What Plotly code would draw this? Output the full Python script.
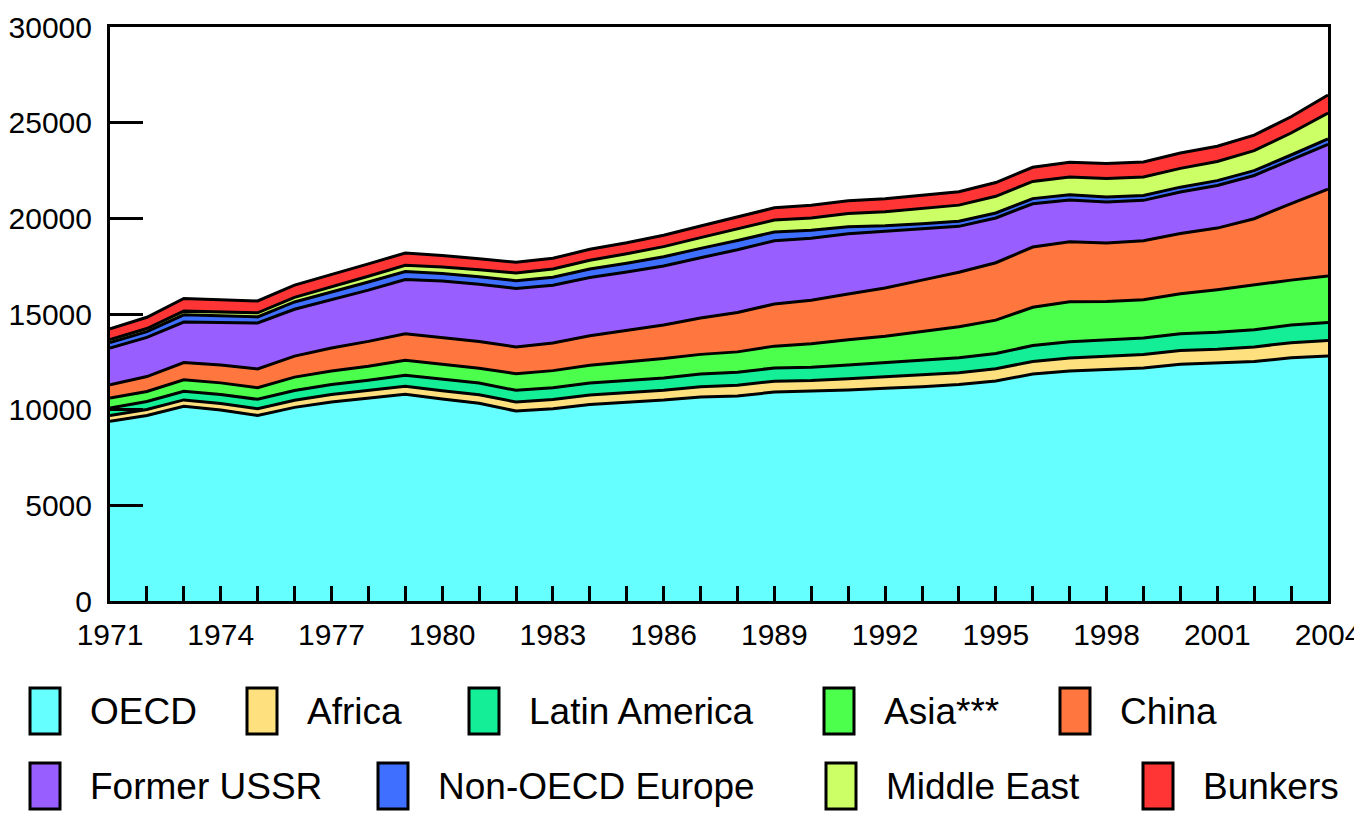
import plotly.graph_objects as go

years = list(range(1971, 2005))

oecd = [9390, 9700, 10180, 9980, 9700, 10120, 10400, 10590, 10800, 10560, 10330, 9930, 10050, 10270, 10380, 10500, 10660,
        10720, 10920, 10960, 11030, 11120, 11200, 11320, 11500, 11860, 12020, 12100, 12180, 12370, 12430, 12520, 12710, 12800]
africa = [300, 310, 330, 340, 350, 370, 390, 400, 420, 430, 450, 470, 480, 500, 510, 520, 540,
          560, 570, 560, 580, 590, 600, 610, 640, 660, 680, 690, 700, 720, 730, 760, 790, 810]
latin_america = [400, 420, 450, 470, 490, 510, 530, 550, 580, 600, 610, 610, 610, 620, 630, 640, 660,
                 680, 690, 700, 720, 740, 760, 780, 800, 830, 850, 860, 870, 880, 880, 900, 920, 950]
asia = [520, 520, 600, 610, 610, 700, 700, 730, 780, 790, 780, 870, 900, 930, 960, 1010, 1030,
        1060, 1140, 1220, 1330, 1390, 1530, 1620, 1740, 2000, 2090, 2000, 2000, 2090, 2230, 2350, 2350, 2430]
china = [690, 780, 900, 930, 980, 1100, 1200, 1300, 1390, 1390, 1390, 1400, 1440, 1540, 1650, 1760, 1900,
         2060, 2200, 2280, 2380, 2520, 2680, 2850, 3000, 3150, 3130, 3060, 3080, 3150, 3220, 3450, 4000, 4530]
former_ussr = [1920, 2050, 2120, 2230, 2400, 2450, 2530, 2680, 2830, 2950, 3000, 3050, 3020, 3050, 3060, 3080, 3150,
               3280, 3310, 3240, 3160, 2960, 2680, 2400, 2340, 2260, 2190, 2150, 2110, 2170, 2230, 2260, 2280, 2350]
non_oecd_europe = [290, 300, 380, 360, 320, 380, 390, 420, 420, 400, 390, 410, 420, 440, 460, 480, 490,
                   480, 460, 420, 360, 290, 270, 270, 260, 270, 270, 260, 250, 250, 250, 250, 260, 280]
middle_east = [150, 160, 190, 200, 210, 240, 270, 300, 330, 340, 360, 400, 430, 460, 500, 530, 560,
               600, 620, 640, 690, 730, 800, 840, 870, 900, 930, 960, 970, 980, 1000, 1050, 1150, 1350]
bunkers = [560, 590, 660, 640, 620, 640, 640, 650, 640, 600, 580, 560, 560, 570, 570, 600, 610,
           620, 640, 660, 670, 690, 700, 700, 720, 740, 770, 780, 780, 800, 800, 810, 850, 950]

series_names = ["OECD", "Africa", "Latin America", "Asia***", "China",
                "Former USSR", "Non-OECD Europe", "Middle East", "Bunkers"]
series_values = [oecd, africa, latin_america, asia, china,
                 former_ussr, non_oecd_europe, middle_east, bunkers]
series_colors = ["#66FFFF", "#FFE07F", "#14EE96", "#4CFF4C", "#FF773F",
                 "#995EFF", "#3F6FFF", "#CCFF66", "#FF3535"]

y_tick_vals = [0, 5000, 10000, 15000, 20000, 25000, 30000]
y_tick_text = ["0", "5000", "10000", "15000", "20000", "25000", "30000"]
x_label_years = [1971, 1974, 1977, 1980, 1983, 1986, 1989, 1992, 1995, 1998, 2001, 2004]

fig = go.Figure()
for name, vals, col in zip(series_names, series_values, series_colors):
    fig.add_trace(go.Scatter(
        x=years, y=vals, name=name, mode="lines", stackgroup="one",
        fillcolor=col, line=dict(color="black", width=3, shape="linear"),
        showlegend=False, hoverinfo="x+y+name"))

# the page body has an 8px margin, so figure coordinates = screen coordinates - 8
OFF = 8
W, H = 1362 - OFF, 813 - OFF
L, R, T, B = 110 - OFF, 1328 - OFF, 27 - OFF, 601 - OFF
tick_font = dict(family="Liberation Sans, Arial, sans-serif", size=30, color="black")
leg_font = dict(family="Liberation Sans, Arial, sans-serif", size=37, color="black")

fig.update_layout(
    width=W, height=H,
    margin=dict(l=L, r=W - R, t=T, b=H - B, pad=0),
    paper_bgcolor="white", plot_bgcolor="white",
    xaxis=dict(range=[1971, 2004], tickmode="array", tickvals=years,
               ticktext=[str(y) if y in x_label_years else "" for y in years],
               ticks="inside", ticklen=15, tickwidth=3, tickcolor="black",
               showline=True, linewidth=3, linecolor="black", mirror=True,
               showgrid=False, zeroline=False, tickfont=tick_font, tickangle=0,
               automargin=False, ticklabeloverflow="allow", ticklabelstandoff=5),
    yaxis=dict(range=[0, 30000], tickmode="array", tickvals=y_tick_vals, ticktext=y_tick_text,
               ticks="inside", ticklen=33, tickwidth=3, tickcolor="black",
               showline=True, linewidth=3, linecolor="black", mirror=True,
               showgrid=False, zeroline=False, tickfont=tick_font,
               automargin=False, ticklabeloverflow="allow", ticklabelstandoff=9),
    showlegend=False,
)

# manual legend (two rows), positions in screen pixels
legend_pos = [(30, 711), (247, 711), (469, 711), (824, 711), (1060, 711),
              (30, 786), (378, 786), (826, 786), (1143, 786)]
text_gap = 28
box_w, box_h = 30, 46

def px2paper(px, py):
    px -= OFF
    py -= OFF
    return (px - L) / (R - L), (B - py) / (B - T)

for (bx, by), name, col in zip(legend_pos, series_names, series_colors):
    x0, y0 = px2paper(bx, by + box_h / 2)
    x1, y1 = px2paper(bx + box_w, by - box_h / 2)
    fig.add_shape(type="rect", xref="paper", yref="paper", x0=x0, y0=y0, x1=x1, y1=y1,
                  fillcolor=col, line=dict(color="black", width=3))
    tx, ty = px2paper(bx + box_w + text_gap, by)
    fig.add_annotation(xref="paper", yref="paper", x=tx, y=ty, text=name, showarrow=False,
                       xanchor="left", yanchor="middle", font=leg_font)

fig.write_html("out.html")
